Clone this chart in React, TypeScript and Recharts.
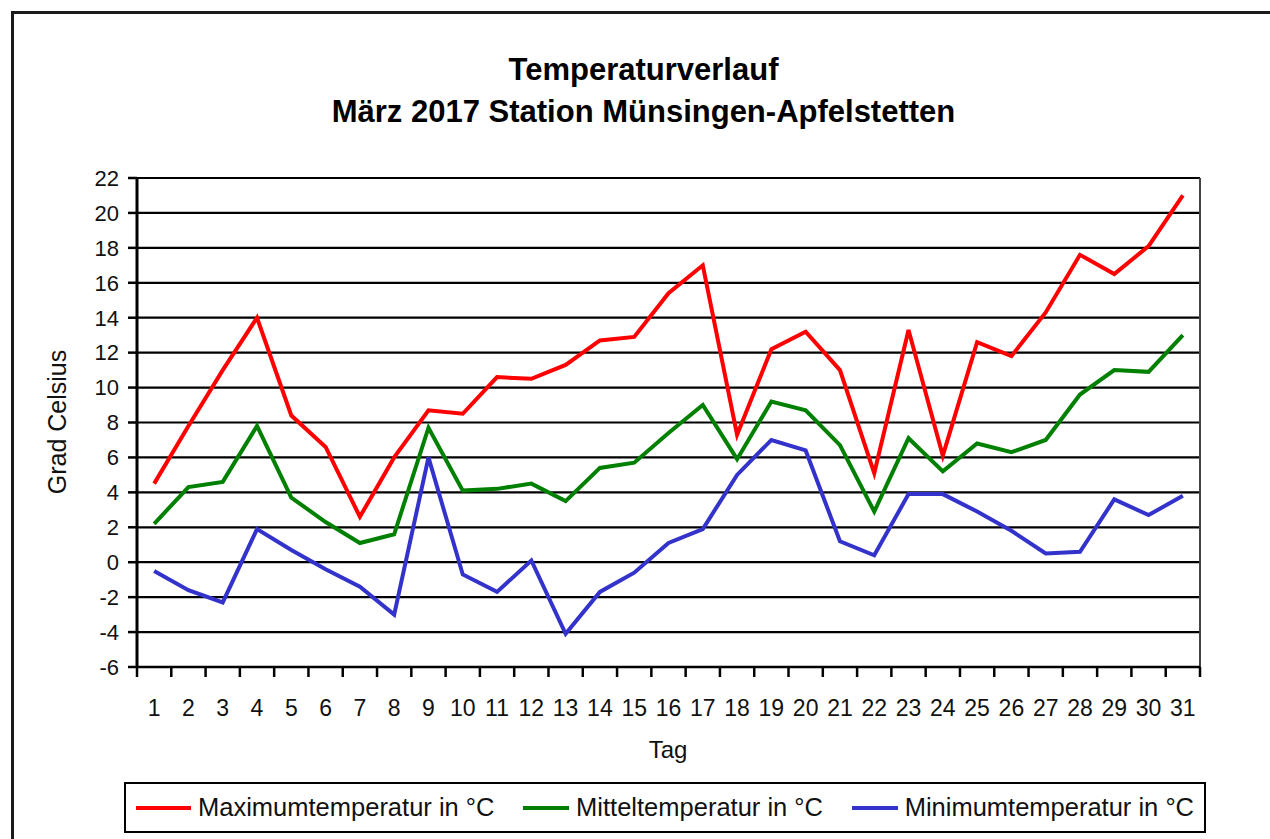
import React from 'react';
import { LineChart, Line, XAxis, YAxis, CartesianGrid, ReferenceLine } from 'recharts';

const days = [1, 2, 3, 4, 5, 6, 7, 8, 9, 10, 11, 12, 13, 14, 15, 16, 17, 18, 19, 20, 21, 22, 23, 24, 25, 26, 27, 28, 29, 30, 31];
const maxTemp = [4.5, 7.8, 11.0, 14.0, 8.4, 6.6, 2.6, 6.0, 8.7, 8.5, 10.6, 10.5, 11.3, 12.7, 12.9, 15.4, 17.0, 7.3, 12.2, 13.2, 11.0, 5.1, 13.3, 6.1, 12.6, 11.8, 14.3, 17.6, 16.5, 18.1, 21.0];
const meanTemp = [2.2, 4.3, 4.6, 7.8, 3.7, 2.3, 1.1, 1.6, 7.7, 4.1, 4.2, 4.5, 3.5, 5.4, 5.7, 7.4, 9.0, 5.9, 9.2, 8.7, 6.7, 2.9, 7.1, 5.2, 6.8, 6.3, 7.0, 9.6, 11.0, 10.9, 13.0];
const minTemp = [-0.5, -1.6, -2.3, 1.9, 0.7, -0.4, -1.4, -3.0, 6.0, -0.7, -1.7, 0.1, -4.1, -1.7, -0.6, 1.1, 1.9, 5.0, 7.0, 6.4, 1.2, 0.4, 3.9, 3.9, 2.9, 1.8, 0.5, 0.6, 3.6, 2.7, 3.8];
const yTicks = [-6, -4, -2, 0, 2, 4, 6, 8, 10, 12, 14, 16, 18, 20, 22];

const seriesKeys = ['max', 'mean', 'min'];
const seriesNames = ['Maximumtemperatur in °C', 'Mitteltemperatur in °C', 'Minimumtemperatur in °C'];
const seriesColors = ['#ff0000', '#008000', '#3333cc'];

const titleLines = ['Temperaturverlauf', 'März 2017 Station Münsingen-Apfelstetten'];
const yLabel = 'Grad Celsius';
const xLabel = 'Tag';

const data = days.map((d, i) => ({ day: d, max: maxTemp[i], mean: meanTemp[i], min: minTemp[i] }));

const FONT = '"Liberation Sans", Arial, Helvetica, sans-serif';
const CHART_W = 1270;
const CHART_H = 839;
const PLOT_LEFT = 137;
const PLOT_RIGHT = 1200;
const PLOT_TOP = 178;
const PLOT_BOTTOM = 667;
const Y_AXIS_W = 60;
const X_AXIS_H = 40;
const HALF_BAND = (PLOT_RIGHT - PLOT_LEFT) / (days.length * 2);

const DayTick = (props: any) => {
  const { x, y, payload, index } = props;
  const axisY = y - 8;
  return (
    <g>
      <line x1={x - HALF_BAND} y1={axisY} x2={x - HALF_BAND} y2={axisY + 10} stroke="#000" strokeWidth={2.5} />
      {index === days.length - 1 && (
        <line x1={x + HALF_BAND} y1={axisY} x2={x + HALF_BAND} y2={axisY + 10} stroke="#000" strokeWidth={2.5} />
      )}
      <text x={x} y={axisY + 49} textAnchor="middle" fontSize={23} fontFamily={FONT} fill="#111">
        {payload.value}
      </text>
    </g>
  );
};

export default function App() {
  return (
    <div
      style={{
        position: 'absolute',
        left: 0,
        top: 0,
        width: CHART_W,
        height: CHART_H,
        background: '#fff',
        overflow: 'hidden',
        fontFamily: FONT,
      }}
    >
      <div
        style={{
          position: 'absolute',
          left: 11,
          top: 11,
          width: 1400,
          height: 1000,
          border: '3px solid #1a1a1a',
          boxSizing: 'border-box',
        }}
      />
      {titleLines.map((t, i) => (
        <div
          key={t}
          style={{
            position: 'absolute',
            left: 0,
            width: 1287,
            top: 51 + i * 42,
            textAlign: 'center',
            fontSize: 31,
            fontWeight: 'bold',
            color: '#000',
            lineHeight: '38px',
            whiteSpace: 'nowrap',
          }}
        >
          {t}
        </div>
      ))}
      <div style={{ position: 'absolute', left: 0, top: 0 }}>
        <LineChart
          width={CHART_W}
          height={CHART_H}
          data={data}
          margin={{
            top: PLOT_TOP,
            right: CHART_W - PLOT_RIGHT,
            bottom: CHART_H - PLOT_BOTTOM - X_AXIS_H,
            left: PLOT_LEFT - Y_AXIS_W,
          }}
        >
          <CartesianGrid vertical={false} stroke="#000" strokeWidth={2.2} strokeOpacity={1} />
          <XAxis
            type="number"
            dataKey="day"
            domain={[0.5, days.length + 0.5]}
            ticks={days}
            interval={0}
            allowDataOverflow
            tickLine={false}
            axisLine={{ stroke: '#000', strokeWidth: 2.5 }}
            tick={<DayTick />}
            height={X_AXIS_H}
          />
          <YAxis
            type="number"
            domain={[-6, 22]}
            ticks={yTicks}
            interval={0}
            allowDataOverflow
            width={Y_AXIS_W}
            tickSize={9}
            tickMargin={9}
            tickLine={{ stroke: '#000', strokeWidth: 2.5 }}
            axisLine={{ stroke: '#000', strokeWidth: 3 }}
            tick={{ fontSize: 22, fontFamily: FONT, fill: '#111' }}
          />
          <ReferenceLine x={days.length + 0.5} stroke="#444" strokeWidth={2} />
          {seriesKeys.map((k, i) => (
            <Line
              key={k}
              type="linear"
              dataKey={k}
              name={seriesNames[i]}
              stroke={seriesColors[i]}
              strokeWidth={4}
              dot={false}
              activeDot={false}
              isAnimationActive={false}
            />
          ))}
        </LineChart>
      </div>
      <div
        style={{
          position: 'absolute',
          left: 57,
          top: 422,
          transform: 'translate(-50%, -50%) rotate(-90deg)',
          fontSize: 25,
          color: '#111',
          whiteSpace: 'nowrap',
        }}
      >
        {yLabel}
      </div>
      <div
        style={{
          position: 'absolute',
          left: 668,
          top: 750,
          transform: 'translate(-50%, -50%)',
          fontSize: 24,
          color: '#111',
          whiteSpace: 'nowrap',
        }}
      >
        {xLabel}
      </div>
      <div
        style={{
          position: 'absolute',
          left: 124,
          top: 782,
          width: 1082,
          height: 51,
          border: '2px solid #000',
          boxSizing: 'border-box',
          display: 'flex',
          alignItems: 'center',
          justifyContent: 'space-between',
          padding: '0 10px',
        }}
      >
        {seriesNames.map((n, i) => (
          <div key={n} style={{ display: 'flex', alignItems: 'center' }}>
            <div style={{ width: i === 0 ? 55 : 46, height: 4, background: seriesColors[i], marginRight: 7 }} />
            <span style={{ fontSize: 25.5, color: '#111', whiteSpace: 'nowrap' }}>{n}</span>
          </div>
        ))}
      </div>
    </div>
  );
}
